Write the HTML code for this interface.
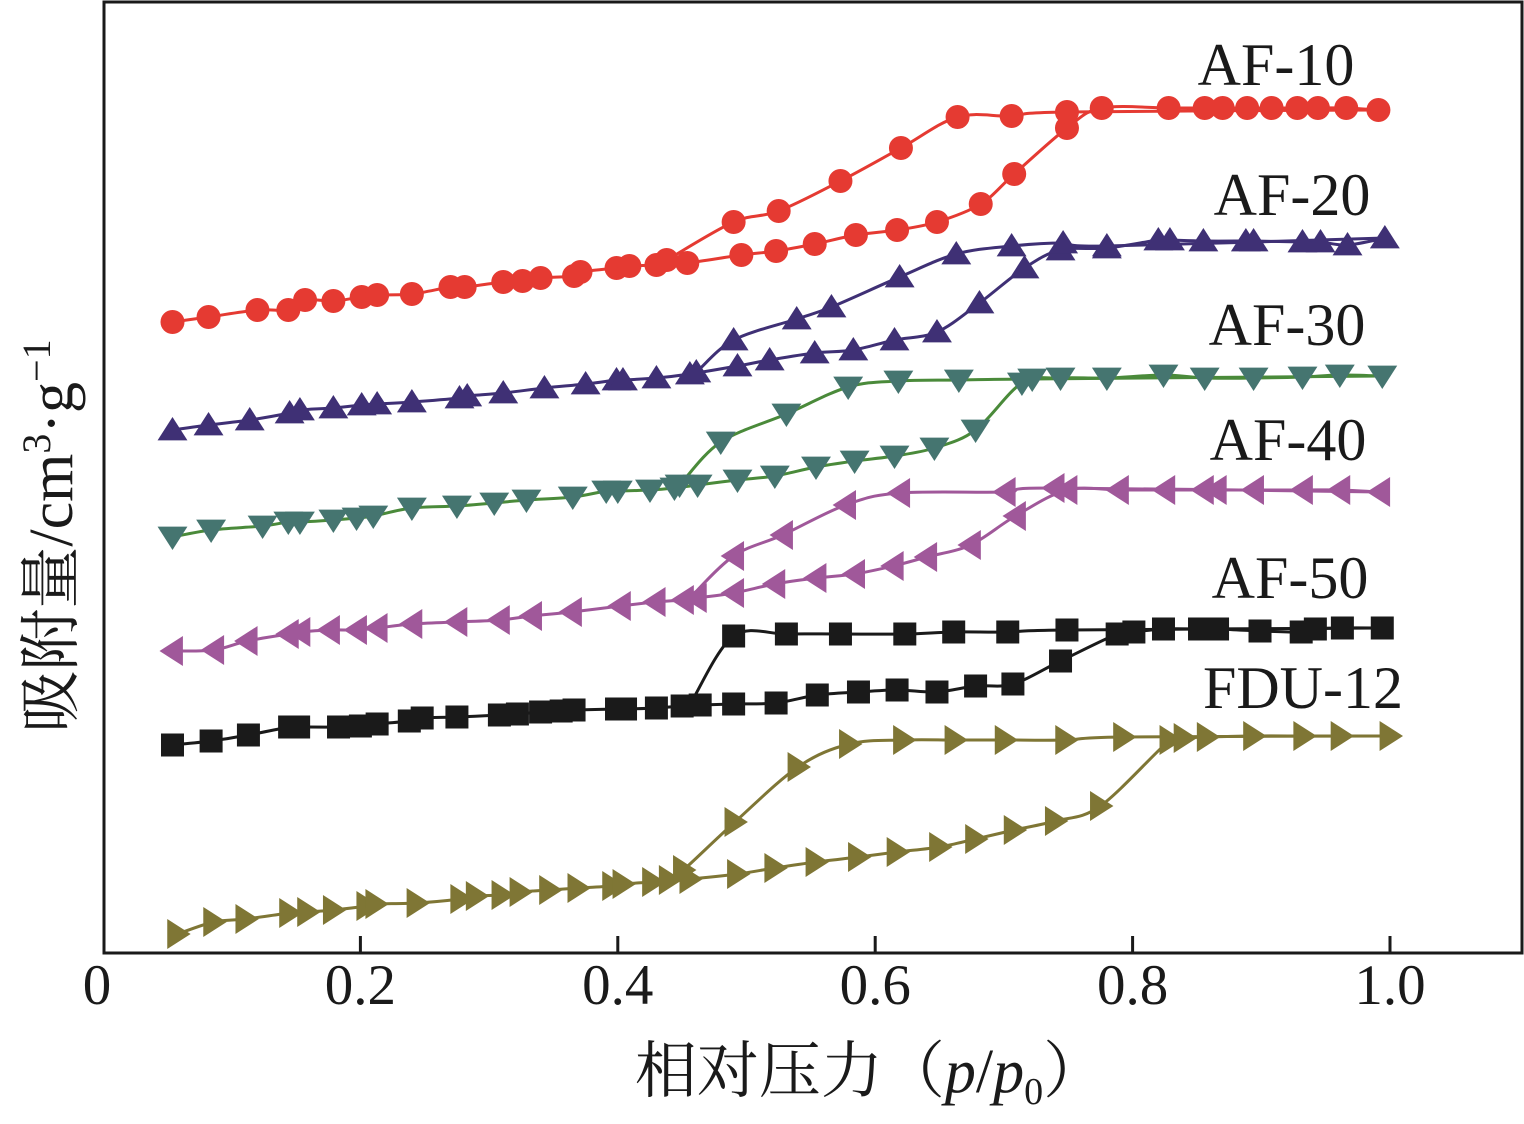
<!DOCTYPE html>
<html><head><meta charset="utf-8"><style>
html,body{margin:0;padding:0;background:#fff;}
svg{display:block;}
text{font-family:"Liberation Serif","Noto Serif CJK SC",serif;fill:#1a1a1a;}
</style></head><body>
<svg id="chart" width="1524" height="1124" viewBox="0 0 1524 1124">
<rect x="104" y="2" width="1418" height="951" fill="none" stroke="#1a1a1a" stroke-width="3"/>
<g id="ticks"></g>
<g id="series"></g>
<g id="labels"></g>
<text x="870" y="1092" text-anchor="middle" font-size="62">相对压力（<tspan font-style="italic">p</tspan>/<tspan font-style="italic">p</tspan><tspan font-size="38" dy="12">0</tspan><tspan dy="-12">）</tspan></text>
<text transform="translate(72,536) rotate(-90)" text-anchor="middle" font-size="62">吸附量/cm<tspan font-size="40" dy="-22">3</tspan><tspan dy="22">·g</tspan><tspan font-size="40" dy="-22">−1</tspan></text>
</svg>
<script>
const tickValues=[0.2,0.4,0.6,0.8,1.0];
const tickLabels=["0","0.2","0.4","0.6","0.8","1.0"];
const tickLabelValues=[0,0.2,0.4,0.6,0.8,1.0];
const seriesNames=["AF-10","AF-20","AF-30","AF-40","AF-50","FDU-12"];
const seriesColors=["#e53a32","#3f3075","#457570","#a0589a","#1a1a1a","#7f7635"];
const lineColors=["#e53a32","#3f3075","#4a8a3a","#a0589a","#1a1a1a","#7f7635"];
const markers=["circle","up","down","left","square","right"];
const labelPos=[[1276,85],[1292,215],[1287,345],[1288,460],[1290,598],[1303,708]];
// adsorption branches
const af10AdsX=[.054,.082,.120,.144,.157,.179,.201,.213,.240,.270,.281,.311,.326,.340,.366,.371,.399,.409,.430,.454,.496,.523,.553,.585,.617,.648,.682,.708,.749,.776,.828,.856,.870,.889,.908,.928,.944,.966,.991];
const af10AdsY=[631,636,643,643,653,652,656,658,659,666,666,671,672,675,677,681,685,687,688,690,698,702,709,718,723,731,749,779,825,845,845,845,845,845,845,845,845,845,843];
const af10DesX=[.991,.749,.706,.664,.620,.573,.525,.490,.438,.430];
const af10DesY=[843,841,837,836,805,772,742,731,693,688];
const af20AdsX=[.054,.082,.114,.145,.153,.179,.201,.213,.240,.277,.283,.311,.343,.375,.399,.404,.430,.456,.493,.518,.553,.583,.615,.648,.681,.716,.744,.780,.820,.829,.855,.888,.894,.932,.946,.967,.996];
const af20AdsY=[523,528,533,540,543,545,548,549,551,555,557,560,565,569,573,573,575,579,587,593,600,603,613,621,650,685,703,705,713,713,712,712,712,711,711,708,715];
const af20DesX=[.996,.780,.746,.706,.663,.619,.566,.539,.490,.461,.456];
const af20DesY=[715,707,710,707,699,676,646,634,613,581,579];
const af30AdsX=[.054,.084,.124,.144,.153,.179,.197,.210,.240,.275,.304,.329,.365,.391,.400,.425,.444,.462,.493,.522,.554,.584,.615,.646,.678,.714,.744,.780,.824,.856,.894,.932,.961,.994];
const af30AdsY=[416,423,427,431,431,433,435,437,445,447,450,453,456,462,462,463,465,468,473,477,486,492,497,505,523,570,575,575,578,575,575,576,578,577];
const af30DesX=[.994,.722,.665,.618,.579,.531,.480,.448,.444];
const af30DesY=[577,574,573,572,566,539,511,468,465];
const af40AdsX=[.054,.086,.112,.144,.153,.176,.197,.213,.240,.275,.308,.333,.364,.402,.429,.451,.461,.490,.522,.554,.584,.614,.640,.674,.709,.749,.789,.825,.855,.865,.894,.932,.961,.992];
const af40AdsY=[302,303,312,319,321,323,323,325,329,331,333,337,341,347,351,353,355,360,369,375,379,387,396,408,437,463,463,463,463,463,463,463,463,461];
const af40DesX=[.992,.739,.701,.619,.577,.528,.490,.456];
const af40DesY=[461,465,461,460,448,418,397,355];
const af50AdsX=[.054,.084,.113,.145,.152,.183,.200,.213,.238,.248,.275,.308,.322,.340,.356,.366,.399,.406,.430,.450,.464,.490,.523,.555,.587,.617,.648,.678,.707,.744,.788,.801,.824,.852,.866,.899,.931,.942,.963,.994];
const af50AdsY=[208,212,218,226,226,226,227,229,232,235,236,238,239,241,242,243,244,244,245,247,248,249,250,258,261,263,261,267,269,292,319,321,324,324,324,322,321,324,325,325];
const af50DesX=[.994,.749,.703,.661,.623,.573,.531,.490,.458];
const af50DesY=[325,323,321,321,319,319,319,317,253];
const fduAdsX=[.058,.086,.111,.145,.159,.179,.205,.212,.244,.278,.290,.310,.324,.347,.369,.396,.404,.427,.440,.456,.493,.522,.554,.587,.617,.650,.678,.708,.740,.775,.829,.840,.858,.894,.933,.962,1.0];
const fduAdsY=[19,31,34,40,41,43,47,49,50,54,57,58,61,63,65,67,69,71,73,74,79,85,91,96,101,106,114,123,132,147,213,215,216,217,217,217,217];
const fduDesX=[1.0,.793,.748,.701,.662,.622,.580,.540,.491,.451,.440];
const fduDesY=[217,216,213,213,213,213,209,186,131,83,73];
const adsX=[af10AdsX,af20AdsX,af30AdsX,af40AdsX,af50AdsX,fduAdsX];
const adsY=[af10AdsY,af20AdsY,af30AdsY,af40AdsY,af50AdsY,fduAdsY];
const desX=[af10DesX,af20DesX,af30DesX,af40DesX,af50DesX,fduDesX];
const desY=[af10DesY,af20DesY,af30DesY,af40DesY,af50DesY,fduDesY];

const NS="http://www.w3.org/2000/svg";
const sx=v=>103+v*1287;
const sy=v=>953-v;
function mk(tag,attrs,parent){const e=document.createElementNS(NS,tag);for(const k in attrs)e.setAttribute(k,attrs[k]);parent.appendChild(e);return e;}
const tg=document.getElementById('ticks');
tickValues.forEach(v=>{
  const t=mk('line',{x1:sx(v),x2:sx(v),y1:953,y2:936,stroke:'#1a1a1a','stroke-width':3},tg);
  
  
});
tickLabels.forEach((l,i)=>{
  const t=mk('text',{x:tickLabelValues[i]===0?97:sx(tickLabelValues[i]),y:1004,'text-anchor':'middle','font-size':57},tg);
  t.textContent=l;
  
  
});
function path(xs,ys){
  const p=xs.map((x,i)=>[sx(x),sy(ys[i])]);
  let d='M'+p[0][0]+','+p[0][1];
  for(let i=0;i<p.length-1;i++){
    const p0=p[Math.max(0,i-1)],p1=p[i],p2=p[i+1],p3=p[Math.min(p.length-1,i+2)];
    const c1=[p1[0]+(p2[0]-p0[0])/6,p1[1]+(p2[1]-p0[1])/6];
    const c2=[p2[0]-(p3[0]-p1[0])/6,p2[1]-(p3[1]-p1[1])/6];
    d+=' C'+c1+' '+c2+' '+p2;
  }
  return d;
}
function marker(type,x,y,col,g){
  const r=13;let e;
  if(type==='circle')e=mk('circle',{cx:x,cy:y,r:12,fill:col},g);
  else if(type==='square')e=mk('rect',{x:x-11.5,y:y-11.5,width:23,height:23,fill:col},g);
  else{
    let pts;
    if(type==='up')pts=[[x,y-r],[x+r*1.15,y+r*0.8],[x-r*1.15,y+r*0.8]];
    if(type==='down')pts=[[x,y+r],[x+r*1.15,y-r*0.8],[x-r*1.15,y-r*0.8]];
    if(type==='left')pts=[[x-r,y],[x+r*0.8,y-r*1.15],[x+r*0.8,y+r*1.15]];
    if(type==='right')pts=[[x+r,y],[x-r*0.8,y-r*1.15],[x-r*0.8,y+r*1.15]];
    e=mk('polygon',{points:pts.map(p=>p.join(',')).join(' '),fill:col},g);
  }
  return e;
}
const sg=document.getElementById('series');
const lg=document.getElementById('labels');
seriesNames.forEach((n,i)=>{
  const g=mk('g',{},sg);
  
  
  const a=mk('path',{d:path(adsX[i],adsY[i]),fill:'none',stroke:lineColors[i],'stroke-width':3},g);
  
  
  const d=mk('path',{d:path(desX[i],desY[i]),fill:'none',stroke:lineColors[i],'stroke-width':3},g);
  
  
  adsX[i].forEach((x,j)=>{
    const m=marker(markers[i],sx(x),sy(adsY[i][j]),seriesColors[i],g);
    
    
  });
  desX[i].slice(1,-1).forEach((x,j)=>{
    const m=marker(markers[i],sx(x),sy(desY[i][j+1]),seriesColors[i],g);
    
    
  });
  const t=mk('text',{x:labelPos[i][0],y:labelPos[i][1],'text-anchor':'middle','font-size':60},lg);
  t.textContent=n;
  
  
});
</script>
</body></html>
